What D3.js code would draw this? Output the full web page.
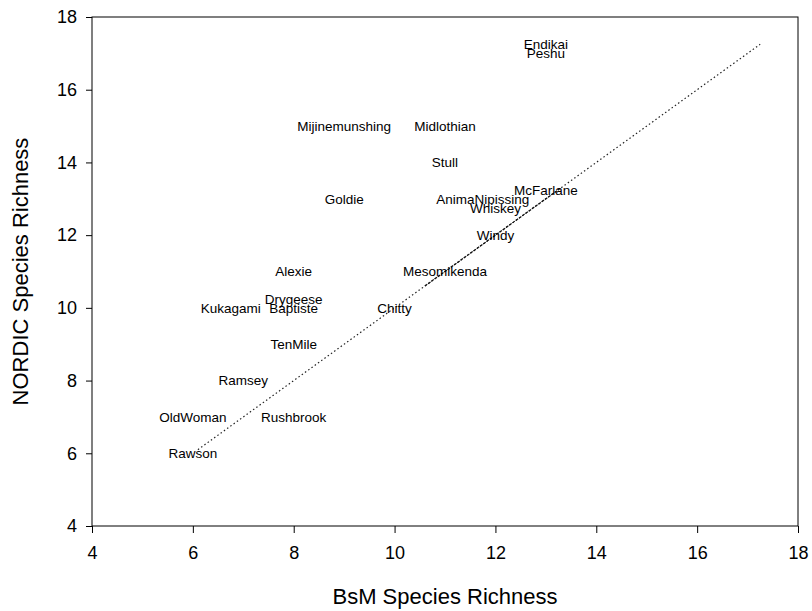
<!DOCTYPE html>
<html>
<head>
<meta charset="utf-8">
<script src="https://cdn.jsdelivr.net/npm/d3@7"></script>
<style>
  body { margin: 0; background: #fff; }
  svg text { font-family: "Liberation Sans", Arial, sans-serif; fill: #000; }
</style>
</head>
<body>
<div id="chart"></div>
<script>
// lake names and richness values
var lakes = ["Endikai", "Peshu", "Mijinemunshing", "Midlothian", "Stull", "McFarlane",
  "AnimaNipissing", "Whiskey", "Goldie", "Windy", "Alexie", "Mesomikenda", "Drygeese",
  "Kukagami", "Baptiste", "Chitty", "TenMile", "Ramsey", "OldWoman", "Rushbrook", "Rawson"];
var bsm = [13, 13, 9, 11, 11, 13, 11.75, 12, 9, 12, 8, 11, 8, 6.75, 8, 10, 8, 7, 6, 8, 6];
var nordic = [17.25, 17, 15, 15, 14, 13.25, 13, 12.75, 13, 12, 11, 11, 10.25, 10, 10, 10, 9, 8, 7, 7, 6];

// 1:1 line ends
var lineEnds = [6.1, 17.25];
var lineDense = [10.6, 13.3];

var xTicks = [4, 6, 8, 10, 12, 14, 16, 18];
var yTicks = [4, 6, 8, 10, 12, 14, 16, 18];

var W = 812, H = 611;
var pLeft = 92, pRight = 798, pTop = 17, pBottom = 526;

var svg = d3.select("#chart").append("svg")
  .attr("width", W).attr("height", H);

var x = d3.scaleLinear().domain([4, 18]).range([pLeft, pRight]);
var y = d3.scaleLinear().domain([4, 18]).range([pBottom, pTop]);

// frame
svg.append("rect")
  .attr("x", pLeft).attr("y", pTop)
  .attr("width", pRight - pLeft).attr("height", pBottom - pTop)
  .style("fill", "none").style("stroke", "#000").style("stroke-width", 1);

var xAxis = svg.append("g")
  .attr("transform", "translate(0," + pBottom + ")")
  .call(d3.axisBottom(x).tickValues(xTicks).tickSize(7).tickPadding(13).tickFormat(d3.format("d")));
var yAxis = svg.append("g")
  .attr("transform", "translate(" + pLeft + ",0)")
  .call(d3.axisLeft(y).tickValues(yTicks).tickSize(6).tickPadding(9).tickFormat(d3.format("d")));

[xAxis, yAxis].forEach(function(a) {
  a.select(".domain").remove();
  a.selectAll("line").style("stroke", "#000");
  a.selectAll("text").style("font-size", "18px")
    .style("font-family", "'Liberation Sans', Arial, sans-serif");
});

// 1:1 reference line
svg.append("line")
  .attr("x1", x(lineEnds[0])).attr("y1", y(lineEnds[0]))
  .attr("x2", x(lineEnds[1])).attr("y2", y(lineEnds[1]))
  .style("stroke", "#222").style("stroke-width", 1.2)
  .style("stroke-dasharray", "1.5,2.5");
svg.append("line")
  .attr("x1", x(lineDense[0])).attr("y1", y(lineDense[0]))
  .attr("x2", x(lineDense[1])).attr("y2", y(lineDense[1]))
  .style("stroke", "#111").style("stroke-width", 1.2)
  .style("stroke-dasharray", "3,1");

// text labels placed at the points
svg.append("g").selectAll("text")
  .data(lakes)
  .enter().append("text")
  .attr("x", function(d, i) { return x(bsm[i]); })
  .attr("y", function(d, i) { return y(nordic[i]); })
  .attr("dy", "0.36em")
  .attr("text-anchor", "middle")
  .style("font-size", "13.5px")
  .text(function(d) { return d; });

// axis titles
svg.append("text")
  .attr("x", (pLeft + pRight) / 2).attr("y", 604)
  .attr("text-anchor", "middle")
  .style("font-size", "22px")
  .text("BsM Species Richness");

svg.append("text")
  .attr("transform", "translate(28," + ((pTop + pBottom) / 2) + ") rotate(-90)")
  .attr("text-anchor", "middle")
  .style("font-size", "22px")
  .text("NORDIC Species Richness");
</script>
</body>
</html>
